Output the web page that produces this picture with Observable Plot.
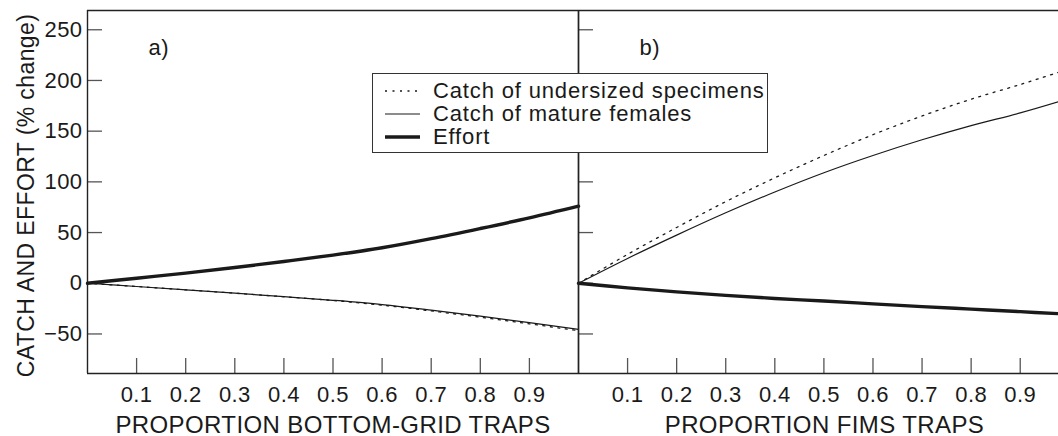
<!DOCTYPE html>
<html>
<head>
<meta charset="utf-8">
<script src="https://cdn.jsdelivr.net/npm/d3@7"></script>
<script src="https://cdn.jsdelivr.net/npm/@observablehq/plot@0.6"></script>
<style>
  html, body { margin: 0; padding: 0; background: #fff; width: 1058px; height: 436px; overflow: hidden; }
  #wrap { position: relative; width: 1058px; height: 436px; font-family: "Liberation Sans", Arial, sans-serif; color: #1a1a1a; }
  #wrap svg { position: absolute; top: 0; }
  #wrap svg text { letter-spacing: 0.4px; }
  #legend { position: absolute; left: 372px; top: 73px; width: 394px; height: 73px; border: 1.2px solid #333; background: #fff; padding-top: 5px; box-sizing: content-box; }
  .row { display: flex; align-items: center; height: 23px; font-size: 22px; letter-spacing: 0.85px; line-height: 23px; white-space: nowrap; }
  .row svg { position: static !important; margin-left: 12px; margin-right: 13px; flex: none; }
</style>
</head>
<body>
<div id="wrap"></div>
<script>
// ---- data ----
const series = ["Catch of undersized specimens", "Catch of mature females", "Effort"];
const yTicks = [-50, 0, 50, 100, 150, 200, 250];
const xTicks = [0.1, 0.2, 0.3, 0.4, 0.5, 0.6, 0.7, 0.8, 0.9];

// panel a) proportion bottom-grid traps
const xA = [0, 0.1, 0.2, 0.3, 0.4, 0.5, 0.6, 0.7, 0.8, 0.9, 1.0];
const underA = [0, -3.2, -6.5, -9.8, -13.3, -17, -21.6, -27.3, -33.5, -40, -46.8];
const matureA = [0, -3.2, -6.5, -9.8, -13.2, -16.8, -21, -26.5, -32.5, -38.8, -45.4];
const effortA = [0, 5, 10, 15.5, 21.5, 27.8, 35, 44, 54, 64.5, 76];

// panel b) proportion FIMS traps
const xB = [0, 0.1, 0.2, 0.3, 0.4, 0.5, 0.6, 0.7, 0.8, 0.9, 0.978];
const underB = [0, 28.5, 55, 80.5, 104, 126, 146.5, 165, 181.5, 196, 208];
const matureB = [0, 24.5, 47.5, 69.5, 90, 109, 126, 141.5, 155.5, 168, 179];
const effortB = [0, -4.5, -8.5, -12, -15, -17.5, -20.3, -23, -25.5, -28, -30];

const yDomain = [-89, 269];
const FONT = '"Liberation Sans", Arial, sans-serif';
const INK = "#1a1a1a";

function table(xs, a, b, c) {
  return xs.flatMap((x, i) => [
    {x, y: a[i], s: series[0]},
    {x, y: b[i], s: series[1]},
    {x, y: c[i], s: series[2]}
  ]);
}

function lineMarks(rows) {
  return [
    Plot.line(rows.filter(d => d.s === series[0]), {x: "x", y: "y", curve: "catmull-rom", stroke: INK, strokeWidth: 1.3, strokeDasharray: "2,5.5"}),
    Plot.line(rows.filter(d => d.s === series[1]), {x: "x", y: "y", curve: "catmull-rom", stroke: INK, strokeWidth: 1.2}),
    Plot.line(rows.filter(d => d.s === series[2]), {x: "x", y: "y", curve: "catmull-rom", stroke: INK, strokeWidth: 3.4})
  ];
}

function panel({xs, a, b, c, xmax, width, marginLeft, marginRight, title, titleDx, tag, left, yAxis}) {
  const rows = table(xs, a, b, c);
  const tickX = 15 / (width - marginLeft - marginRight) * xmax;
  const tickY = 15 / 363 * (yDomain[1] - yDomain[0]);
  const marks = [
    // inward ticks
    Plot.ruleY(yTicks, {y: d => d, x1: 0, x2: tickX, stroke: "#555", strokeWidth: 1.3}),
    Plot.ruleX(xTicks, {x: d => d, y1: yDomain[0], y2: yDomain[0] + tickY, stroke: "#555", strokeWidth: 1.3}),
    // frame
    Plot.ruleY([yDomain[1]], {x1: 0, x2: xmax, stroke: "#222", strokeWidth: 1.4}),
    Plot.ruleY([yDomain[0]], {x1: 0, x2: xmax, stroke: "#222", strokeWidth: 1.4}),
    Plot.ruleX([0], {y1: yDomain[0], y2: yDomain[1], stroke: "#222", strokeWidth: 1.4}),
    ...lineMarks(rows),
    Plot.axisX(xTicks, {tickSize: 0, tickPadding: 13, tickFormat: d => d.toFixed(1), fontSize: 22, label: null, fill: INK}),
    Plot.text([title], {frameAnchor: "bottom", dx: titleDx, dy: 59, lineAnchor: "bottom", fontSize: 24, fill: INK}),
    Plot.text([tag], {frameAnchor: "top-left", dx: 61, dy: 44, textAnchor: "start", lineAnchor: "bottom", fontSize: 22, fill: INK})
  ];
  if (yAxis) {
    marks.push(Plot.ruleX([xmax], {y1: yDomain[0], y2: yDomain[1], stroke: "#222", strokeWidth: 1.4}));
    marks.push(Plot.axisY(yTicks, {tickSize: 0, tickPadding: 5, fontSize: 22, label: null, fill: INK}));
    marks.push(Plot.text(["CATCH AND EFFORT (% change)"], {frameAnchor: "left", rotate: -90, dx: -61, dy: 3.5, textAnchor: "middle", lineAnchor: "middle", fontSize: 23, fill: INK}));
  }
  const svg = Plot.plot({
    width, height: 436,
    marginTop: 10, marginBottom: 63, marginLeft, marginRight,
    x: {domain: [0, xmax]},
    y: {domain: yDomain, axis: yAxis ? undefined : null},
    style: {fontFamily: FONT, background: "transparent", overflow: "visible", color: INK},
    marks
  });
  svg.style.left = left + "px";
  return svg;
}

const wrap = document.getElementById("wrap");
wrap.appendChild(panel({xs: xB, a: underB, b: matureB, c: effortB, xmax: 0.978, width: 480, marginLeft: 0, marginRight: 0,
  title: "PROPORTION FIMS TRAPS", titleDx: 6, tag: "b)", left: 578, yAxis: false}));
wrap.appendChild(panel({xs: xA, a: underA, b: matureA, c: effortA, xmax: 1, width: 580, marginLeft: 87, marginRight: 2,
  title: "PROPORTION BOTTOM-GRID TRAPS", titleDx: 0, tag: "a)", left: 0, yAxis: true}));

// legend (HTML overlay)
const legend = document.createElement("div");
legend.id = "legend";
const styles = [
  {w: 1.3, dash: "2,5.5"},
  {w: 1.2, dash: null},
  {w: 3.4, dash: null}
];
series.forEach((name, i) => {
  const row = document.createElement("div");
  row.className = "row";
  const sw = d3.create("svg").attr("width", 35).attr("height", 10);
  sw.append("line").attr("x1", 0).attr("x2", 35).attr("y1", 5).attr("y2", 5)
    .attr("stroke", INK).attr("stroke-width", styles[i].w)
    .attr("stroke-dasharray", styles[i].dash);
  row.appendChild(sw.node());
  const span = document.createElement("span");
  span.textContent = name;
  row.appendChild(span);
  legend.appendChild(row);
});
wrap.appendChild(legend);
</script>
</body>
</html>
